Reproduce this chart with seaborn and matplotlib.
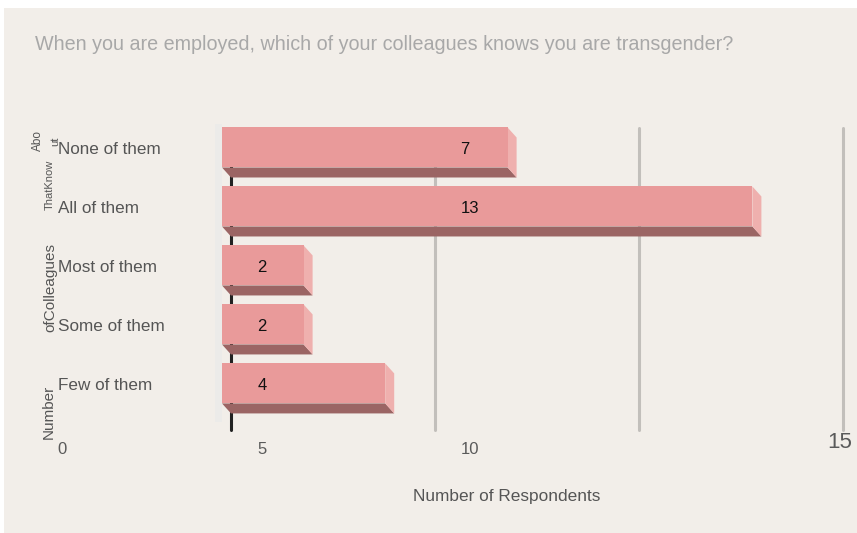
import matplotlib
matplotlib.use("Agg")
import matplotlib.pyplot as plt
import matplotlib.transforms as mtransforms
from matplotlib.patches import Polygon, Rectangle
from matplotlib import font_manager
import seaborn as sns
import pandas as pd

# ---- data ----
answers = ["None of them", "All of them", "Most of them", "Some of them", "Few of them"]
counts = [7, 13, 2, 2, 4]
tick_values = [0, 5, 10, 15]
tick_labels = ["0", "5", "10", "15"]
title = "When you are employed, which of your colleagues knows you are transgender?"
x_title = "Number of Respondents"

sns.set_theme(style="white")
plt.rcParams["font.family"] = ["Liberation Sans", "DejaVu Sans"]

names = {f.name for f in font_manager.fontManager.ttflist}
narrow = "Liberation Sans Narrow" if "Liberation Sans Narrow" in names else "Liberation Sans"

W, H, DPI = 857, 533, 100
fig = plt.figure(figsize=(W / DPI, H / DPI), dpi=DPI, facecolor="white")
BG = "#f2eee9"
fig.patches.append(Rectangle((4 / W, 0), 1, 525 / H, transform=fig.transFigure,
                             facecolor=BG, edgecolor="none", zorder=-10))
# light side wall
fig.patches.append(Rectangle((215 / W, 1 - 422 / H), 7 / W, (422 - 124) / H,
                             transform=fig.transFigure, facecolor="#ecebe9",
                             edgecolor="none", zorder=-9))

ax = fig.add_axes([231 / W, 1 - 430 / H, (843 - 231) / W, (430 - 128) / H])
ax.set_facecolor("none")

df = pd.DataFrame({"answer": answers, "count": counts})
sns.barplot(data=df, x="count", y="answer", orient="h", color="#e99a9a",
            saturation=1, width=40 / 59.0, ax=ax, zorder=3)

ax.set_xlim(0, 15)
ax.set_ylim(len(answers) - 1 + 0.62, -0.5)
for s in ax.spines.values():
    s.set_visible(False)
ax.set_xticks([])
ax.set_yticks([])
ax.set_xlabel("")
ax.set_ylabel("")

# grid lines and base line
for v in tick_values[1:]:
    ax.axvline(v, color="#c2bfbb", lw=2.2, zorder=1, clip_on=False)
ax.axvline(0, ymin=0, ymax=1, color="#222222", lw=2.2, zorder=1, clip_on=False)

DX, DY = -9, 10  # front face offset in pixels
off = mtransforms.ScaledTranslation(DX / DPI, DY / DPI, fig.dpi_scale_trans)

fig.canvas.draw()
for p in ax.patches[:len(answers)]:
    x0, y0 = p.get_x(), p.get_y()
    w, h = p.get_width(), p.get_height()
    (X0, Ya), (X1, Yb2) = ax.transData.transform([(x0, y0), (x0 + w, y0 + h)])
    Yt, Yb = max(Ya, Yb2), min(Ya, Yb2)
    bottom = Polygon([(X0 + DX, Yb + DY), (X1 + DX, Yb + DY), (X1, Yb), (X0, Yb)],
                     closed=True, transform=None, facecolor="#9b6564",
                     edgecolor="none", zorder=2.5, clip_on=False)
    side = Polygon([(X1 + DX, Yt + DY), (X1, Yt), (X1, Yb), (X1 + DX, Yb + DY)],
                   closed=True, transform=None, facecolor="#efb0ae",
                   edgecolor="none", zorder=2.5, clip_on=False)
    ax.add_artist(bottom)
    ax.add_artist(side)
    p.set_transform(ax.transData + off)
    p.set_clip_on(False)
    p.set_edgecolor("none")

LDY = 8
# value labels
label_px = [465, 470, 262, 262, 262]
for i, (c, px) in enumerate(zip(counts, label_px)):
    xd = (px - 231) / ((843 - 231) / 15)
    ax.text(xd, i, str(c), ha="center", va="center", fontsize=12, color="#111111",
            transform=ax.transData + mtransforms.ScaledTranslation(0, LDY / DPI, fig.dpi_scale_trans),
            zorder=5)

# category labels
bt = mtransforms.blended_transform_factory(fig.transFigure, ax.transData)
for i, a in enumerate(answers):
    ax.text(58 / W, i, a, ha="left", va="center", fontsize=12.3, color="#555555",
            transform=bt + mtransforms.ScaledTranslation(0, LDY / DPI, fig.dpi_scale_trans),
            clip_on=False)

# x tick labels (displaced as in the original)
tick_dx = [-169, -173, -169, -3]
tick_y = [450, 450, 450, 443]
tick_fs = [12, 12, 12, 16]
for v, lab, dx, ty, fs in zip(tick_values, tick_labels, tick_dx, tick_y, tick_fs):
    tb = mtransforms.blended_transform_factory(ax.transData, fig.transFigure)
    ax.text(v, 1 - ty / H, lab, ha="center", va="center", fontsize=fs, color="#5a5a5a",
            family=[narrow, "DejaVu Sans"],
            transform=tb + mtransforms.ScaledTranslation(dx / DPI, 0, fig.dpi_scale_trans),
            clip_on=False)

fig.text(507 / W, 1 - 497 / H, x_title, ha="center", va="center", fontsize=12.4,
         color="#555555", family=[narrow, "DejaVu Sans"])

# broken y-axis title pieces
ypieces = [("Number", 49, 412, 11), ("ofColleagues", 50, 288, 11),
           ("ThatKnow", 50, 185, 8), ("Abo", 38, 140, 8.5), ("ut", 55, 141, 8)]
for txt, px, py, fs in ypieces:
    fig.text(px / W, 1 - py / H, txt, rotation=90, ha="center", va="center",
             fontsize=fs, color="#555555", family=[narrow, "DejaVu Sans"])

fig.text(35 / W, 1 - 45 / H, title, ha="left", va="center", fontsize=14.2,
         color="#a8a8a8")

fig.savefig("out.png", dpi=DPI, facecolor=fig.get_facecolor())
